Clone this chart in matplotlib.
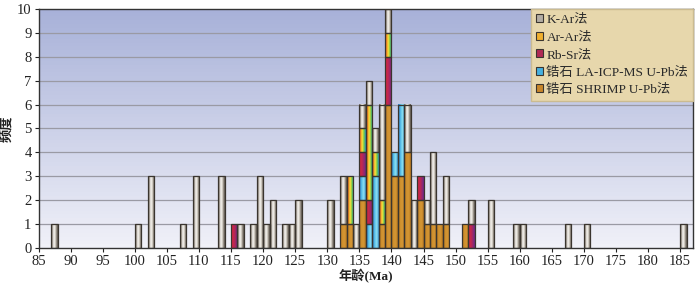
import numpy as np
import matplotlib
matplotlib.use("Agg")
import matplotlib.pyplot as plt
from matplotlib.patches import Patch
from matplotlib.colors import to_rgb

plt.rcParams['font.family'] = ['Liberation Serif', 'Noto Sans CJK SC']

# counts per 1 Ma bin (left edge = age)
shrimp_age = [132, 133, 135, 138, 139, 140, 141, 142, 144, 145, 146, 147, 148, 151]
shrimp_n   = [1,   1,   2,   1,   6,   3,   3,   4,   2,   1,   1,   1,   1,   1]
la_age = [135, 136, 137, 140, 141]
la_n   = [1,   1,   3,   1,   3]
rbsr_age = [115, 135, 136, 139, 144, 152]
rbsr_n   = [1,   1,   1,   2,   1,   1]
arar_age = [133, 135, 136, 137, 138, 139]
arar_n   = [2,   1,   4,   1,   1,   1]
kar_age = [87, 100, 102, 107, 109, 113, 116, 118, 119, 120, 121, 123, 124, 125,
           130, 132, 134, 135, 136, 137, 138, 139, 142, 143, 145, 146, 148,
           152, 155, 159, 160, 167, 170, 185]
kar_n   = [1, 1, 3, 1, 3, 3, 1, 1, 3, 1, 2, 1, 1, 2,
           2, 2, 1, 1, 1, 1, 4, 1, 2, 2, 1, 3, 2,
           1, 2, 1, 1, 1, 1, 1]

labels = ['K-Ar法', 'Ar-Ar法', 'Rb-Sr法', '锆石 LA-ICP-MS U-Pb法', '锆石 SHRIMP U-Pb法']
flat = ['#b3ada4', '#f0b030', '#b02a55', '#45b0e0', '#c8862a']
stops = [
    ['#6a625a', '#a39c92', '#f6f4f0', '#e2ded6', '#948d83', '#5e574f'],
    ['#e0352a', '#f59a25', '#f3e63e', '#66c24c', '#2d9fd8'],
    ['#e0283a', '#b82755', '#6b2a8c'],
    ['#2a6fc0', '#4fb8e6', '#8ee2f2', '#3a9ad6'],
    ['#b8741c', '#cf902e', '#d49634', '#b8781f'],
]


def hgrad(cols, n=32):
    rgb = np.array([to_rgb(c) for c in cols])
    xs = np.linspace(0, 1, len(cols))
    t = np.linspace(0, 1, n)
    return np.stack([np.interp(t, xs, rgb[:, k]) for k in range(3)], axis=-1)[None, :, :]


fig = plt.figure(figsize=(7, 2.92), dpi=100)
ax = fig.add_axes([0.055, 0.151, 0.935, 0.818])

# background gradient
bg = np.linspace(0, 1, 64)[:, None]
top = np.array(to_rgb('#a8b1d9'))
bot = np.array(to_rgb('#f0f1f8'))
bgimg = (top * (1 - bg) + bot * bg)[:, None, :] * np.ones((1, 2, 1))
ax.imshow(bgimg, extent=[0, 1, 0, 1], transform=ax.transAxes, aspect='auto', zorder=0)

for y in range(1, 10):
    ax.axhline(y, color='#9a9aa4', lw=0.9, zorder=1)

series = [(shrimp_age, shrimp_n, 4), (la_age, la_n, 3), (rbsr_age, rbsr_n, 2),
          (arar_age, arar_n, 1), (kar_age, kar_n, 0)]
bottom = {}
for ages, ns, idx in series:
    g = hgrad(stops[idx])
    for a, n in zip(ages, ns):
        b = bottom.get(a, 0)
        ax.imshow(g, extent=[a, a + 1, b, b + n], aspect='auto', zorder=2,
                  interpolation='bilinear')
        ax.bar(a, n, width=1, bottom=b, align='edge', facecolor='none',
               edgecolor='#3a352f', linewidth=0.9, zorder=3)
        bottom[a] = b + n

ax.set_xlim(85, 187)
ax.set_ylim(0, 10)
ax.set_xticks(range(85, 186, 5))
ax.set_yticks(range(0, 11))
ax.tick_params(labelsize=10.5, length=3, width=0.8, colors='#222222', pad=2)
for s in ax.spines.values():
    s.set_color('#333333')
    s.set_linewidth(1.0)
ax.set_xlabel('年龄(Ma)', fontsize=9.5, fontweight='bold', labelpad=1, color='#222222')
ax.set_ylabel('频度', fontsize=9.5, fontweight='bold', labelpad=3, color='#222222')

handles = [Patch(facecolor=flat[i], edgecolor='#3a352f', linewidth=0.8) for i in range(5)]
leg = ax.legend(handles, labels, loc='upper right', fontsize=9.6, frameon=True,
                fancybox=False, borderaxespad=0, handlelength=0.55, handleheight=0.55,
                handletextpad=0.25, labelspacing=0.42, borderpad=0.35)
leg.get_frame().set_facecolor('#e7d7ac')
leg.get_frame().set_edgecolor('#cbbb90')
leg.get_frame().set_alpha(1)
leg.set_zorder(5)
for t in leg.get_texts():
    t.set_color('#2a2a2a')

fig.savefig('out.png', dpi=100)
